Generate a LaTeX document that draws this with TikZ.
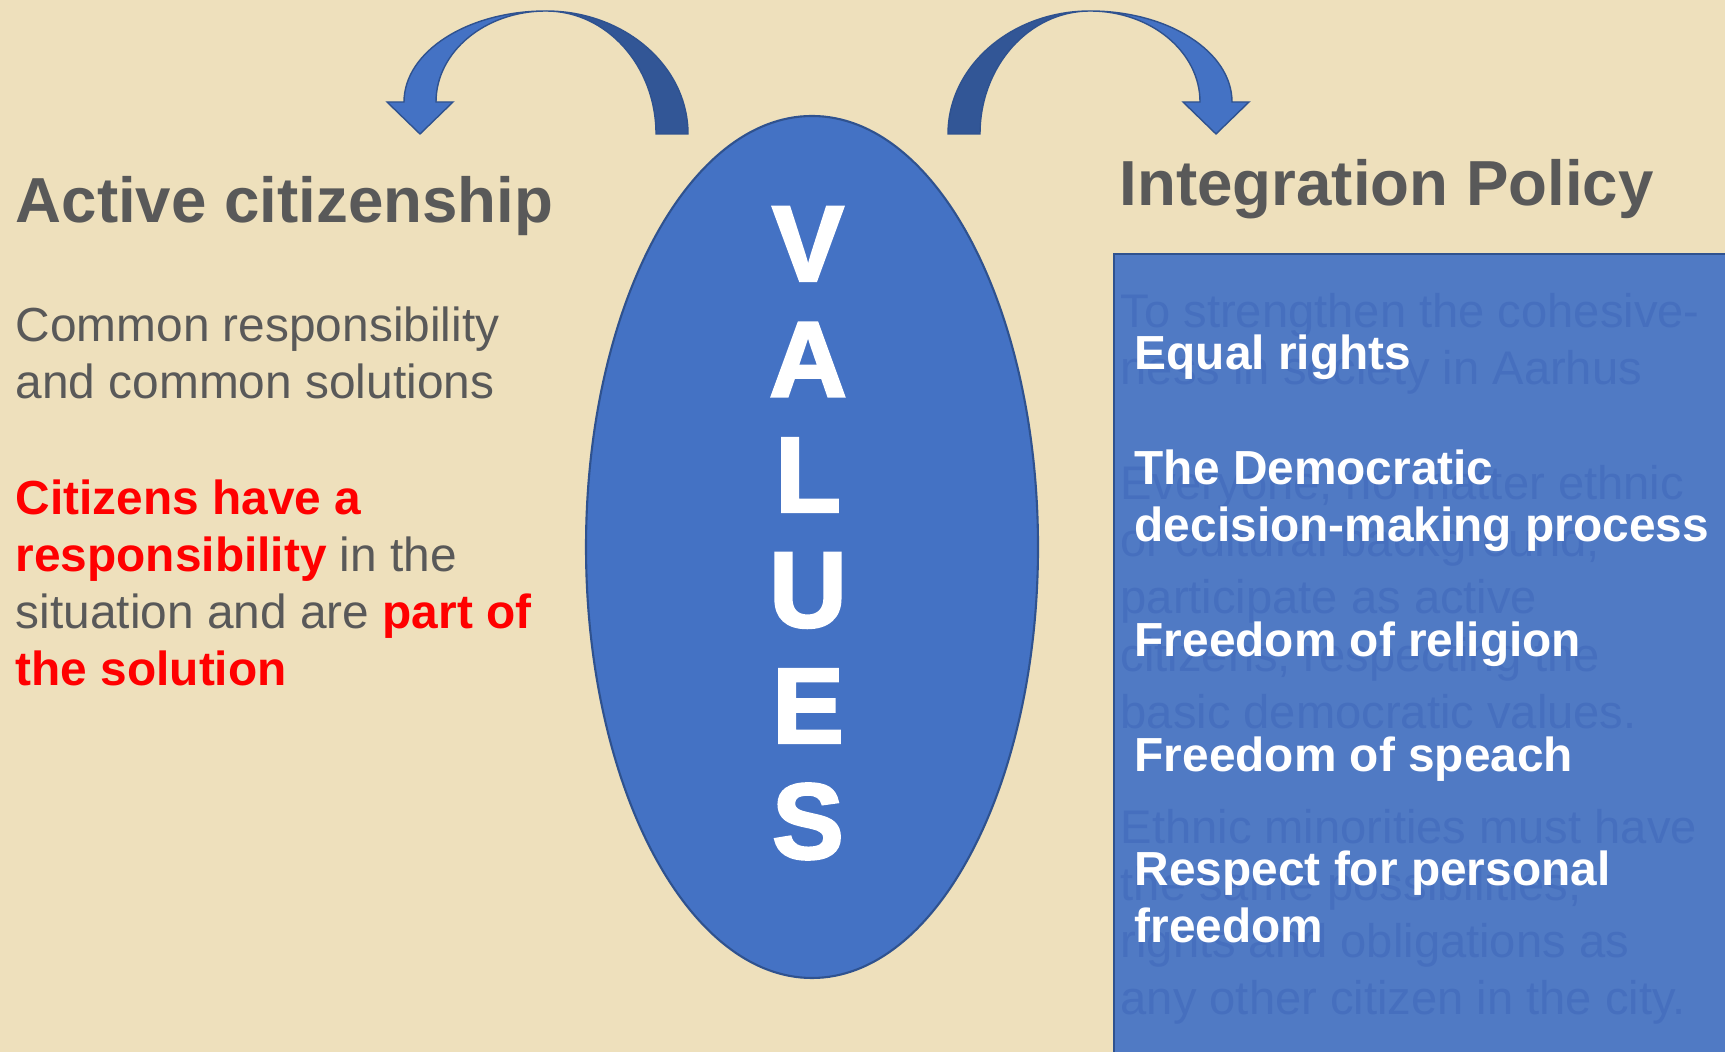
\documentclass[tikz,border=0pt]{standalone}
\usepackage{fontspec}
\setmainfont{Liberation Sans}
\newfontfamily\heavyfont[BoldFeatures={FakeBold=2.5}]{Liberation Sans}

\definecolor{parch}{RGB}{238,224,188}
\definecolor{txtgray}{RGB}{89,89,89}
\definecolor{ovalblue}{RGB}{68,114,196}
\definecolor{edgeblue}{RGB}{47,82,143}
\definecolor{backblue}{RGB}{50,86,150}
\definecolor{boxblue}{RGB}{80,122,196}
\definecolor{ghostblue}{RGB}{70,111,190}
\newcommand{\redbf}[1]{\textcolor{red}{\bfseries #1}}

\begin{document}
\begin{tikzpicture}[x=0.01cm, y=0.01cm,
    heading/.style={anchor=base west, inner sep=0, text=txtgray, font=\fontsize{18.1}{21}\selectfont\bfseries},
    body/.style={anchor=base west, inner sep=0, align=left, text=txtgray, font=\fontsize{13.6}{16.3}\selectfont},
    item/.style={anchor=base west, inner sep=0, align=left, text=white, font=\fontsize{13.6}{16.3}\selectfont\bfseries},
    ghost/.style={anchor=base west, inner sep=0, align=left, text=ghostblue, font=\fontsize{13.4}{16.3}\selectfont},
    letter/.style={inner sep=0, text=white, font=\fontsize{30.5}{30}\selectfont\heavyfont\bfseries}]

    %% Values slide

    % Parchment
    \useasboundingbox (0,0) rectangle (1725,1052);
    \fill[parch] (0,0) rectangle (1725,1052);

    % Left arrow
    \filldraw[fill=backblue, draw=edgeblue] (688,918) arc[start angle=0, end angle=90, x radius=142, y radius=123]
        arc[start angle=90, end angle=0, x radius=110, y radius=123] -- cycle;
    \filldraw[fill=ovalblue, draw=edgeblue] (546,1041) arc[start angle=90, end angle=180, x radius=142, y radius=91]
        -- (387,950) -- (420,918) -- (453,950) -- (436,950)
        arc[start angle=180, end angle=90, x radius=110, y radius=91] -- cycle;

    % Right arrow
    \filldraw[fill=backblue, draw=edgeblue] (948,918) arc[start angle=180, end angle=90, x radius=142, y radius=123]
        arc[start angle=90, end angle=180, x radius=110, y radius=123] -- cycle;
    \filldraw[fill=ovalblue, draw=edgeblue] (1090,1041) arc[start angle=90, end angle=0, x radius=142, y radius=91]
        -- (1249,950) -- (1216,918) -- (1183,950) -- (1200,950)
        arc[start angle=0, end angle=90, x radius=110, y radius=91] -- cycle;

    % Oval with the letters
    \filldraw[fill=ovalblue, draw=edgeblue, line width=0.6pt] (812,505) ellipse[x radius=226, y radius=431];
    \foreach \ch [count=\i from 0] in {V,A,L,U,E,S}
        \node[letter] (ch\i) at (808,808-115.5*\i) {\ch};

    % Left column (multi-line nodes sit on their last line)
    \node[heading] (active) at (15,829) {Active citizenship};
    \node[body] (common) at (15,653) {Common responsibility\\ and common solutions};
    \node[body] (citizens) at (15,366) {\redbf{Citizens have a}\\ \redbf{responsibility} in the\\
        situation and are \redbf{part of}\\ \redbf{the solution}};

    % Right column
    \node[heading] (policy) at (1119,846) {Integration Policy};
    \filldraw[fill=boxblue, draw=edgeblue, line width=0.6pt] (1114,-10) rectangle (1740,798);
    \node[ghost] (aims) at (1120,37) {To strengthen the cohesive-\\ ness in society in Aarhus\\[16.3pt]
        Everyone, no matter ethnic\\ or cultural background,\\ participate as active\\
        citizens, respecting the\\ basic democratic values.\\[16.3pt]
        Ethnic minorities must have\\ the same possibilities,\\ rights and obligations as\\
        any other citizen in the city.};
    \node[item] (rights) at (1134,109) {Equal rights\\[16.3pt] The Democratic\\ decision-making process\\[16.3pt]
        Freedom of religion\\[16.3pt] Freedom of speach\\[16.3pt] Respect for personal\\ freedom};

\end{tikzpicture}
\end{document}
